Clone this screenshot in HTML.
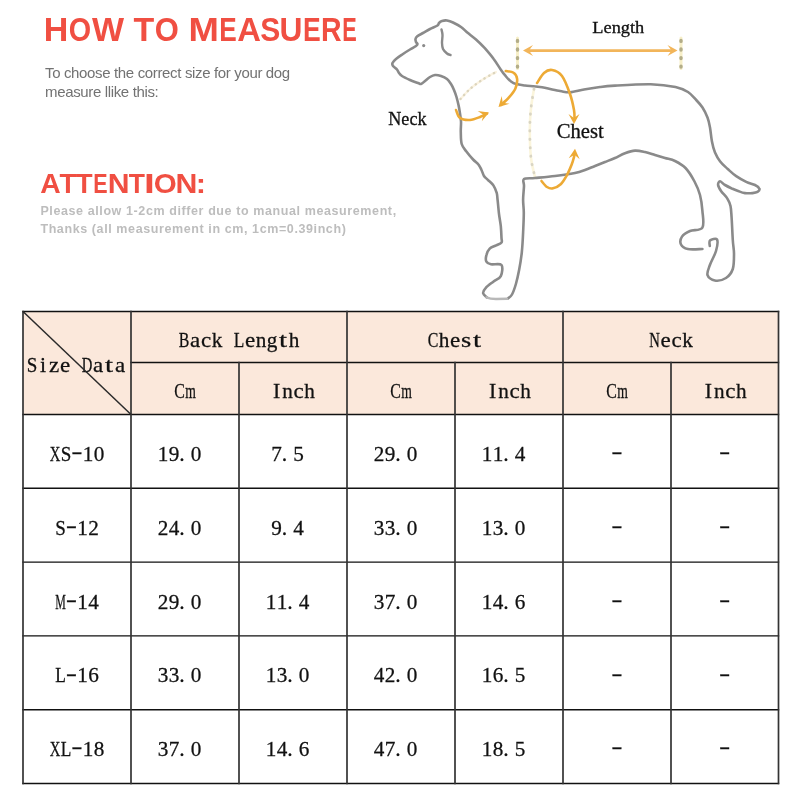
<!DOCTYPE html>
<html><head><meta charset="utf-8"><title>How to measure</title>
<style>
html,body{margin:0;padding:0;background:#fff;}
body{width:800px;height:800px;position:relative;overflow:hidden;}
.abs{position:absolute;white-space:nowrap;}
.sub{left:45px;top:64.3px;font:15px/18.6px "Liberation Sans",Arial,sans-serif;color:#727272;letter-spacing:-0.35px;}
.note{left:40.4px;top:203px;font:bold 12.5px/17.5px "Liberation Sans",Arial,sans-serif;color:#bdbdbd;letter-spacing:0.6px;}
svg{position:absolute;left:0;top:0;}
.lbl{font-family:"Liberation Serif","Noto Serif CJK SC",serif;fill:#111;stroke:#111;stroke-width:0.3px;}
.tt{font-family:"Liberation Serif","Noto Serif CJK SC",serif;fill:#111;stroke:#111;stroke-width:0.28px;}
.hy{font-family:"IPAGothic","Liberation Serif",sans-serif;}
</style></head>
<body>
<svg width="800" height="240" viewBox="0 0 800 240" class="ttl"><text fill="#F04F42" font-family="'Liberation Sans', Arial, sans-serif" font-weight="bold" font-size="33.4"><tspan x="43.72" y="40.5" textLength="24.57" lengthAdjust="spacingAndGlyphs">H</tspan><tspan x="68.82" y="40.5" textLength="22.39" lengthAdjust="spacingAndGlyphs">O</tspan><tspan x="91.97" y="40.5" textLength="32.07" lengthAdjust="spacingAndGlyphs">W</tspan> <tspan x="133.62" y="40.5" textLength="20.75" lengthAdjust="spacingAndGlyphs">T</tspan><tspan x="154.73" y="40.5" textLength="24.07" lengthAdjust="spacingAndGlyphs">O</tspan> <tspan x="188.56" y="40.5" textLength="30.38" lengthAdjust="spacingAndGlyphs">M</tspan><tspan x="219.25" y="40.5" textLength="17.48" lengthAdjust="spacingAndGlyphs">E</tspan><tspan x="237.18" y="40.5" textLength="23.68" lengthAdjust="spacingAndGlyphs">A</tspan><tspan x="260.13" y="40.5" textLength="20.04" lengthAdjust="spacingAndGlyphs">S</tspan><tspan x="279.49" y="40.5" textLength="22.95" lengthAdjust="spacingAndGlyphs">U</tspan><tspan x="302.92" y="40.5" textLength="17.71" lengthAdjust="spacingAndGlyphs">E</tspan><tspan x="320.89" y="40.5" textLength="20.59" lengthAdjust="spacingAndGlyphs">R</tspan><tspan x="342.35" y="40.5" textLength="14.50" lengthAdjust="spacingAndGlyphs">E</tspan></text><text fill="#F04F42" font-family="'Liberation Sans', Arial, sans-serif" font-weight="bold" font-size="28.4"><tspan x="40.29" y="192.5" textLength="20.45" lengthAdjust="spacingAndGlyphs">A</tspan><tspan x="59.44" y="192.5" textLength="16.86" lengthAdjust="spacingAndGlyphs">T</tspan><tspan x="75.69" y="192.5" textLength="16.86" lengthAdjust="spacingAndGlyphs">T</tspan><tspan x="93.31" y="192.5" textLength="14.33" lengthAdjust="spacingAndGlyphs">E</tspan><tspan x="107.73" y="192.5" textLength="21.80" lengthAdjust="spacingAndGlyphs">N</tspan><tspan x="128.70" y="192.5" textLength="16.18" lengthAdjust="spacingAndGlyphs">T</tspan><tspan x="144.00" y="192.5" textLength="10.80" lengthAdjust="spacingAndGlyphs">I</tspan><tspan x="153.79" y="192.5" textLength="22.95" lengthAdjust="spacingAndGlyphs">O</tspan><tspan x="175.47" y="192.5" textLength="21.87" lengthAdjust="spacingAndGlyphs">N</tspan><tspan x="195.77" y="192.5" textLength="10.30" lengthAdjust="spacingAndGlyphs">:</tspan></text></svg>
<div class="abs sub">To choose the correct size for your dog<br>measure llike this:</div>

<div class="abs note">Please allow 1-2cm differ due to manual measurement,<br>Thanks (all measurement in cm, 1cm=0.39inch)</div>

<svg class="dog" width="800" height="310" viewBox="0 0 800 310">
 <g fill="none" stroke-linecap="round" stroke-linejoin="round">
  <line x1="517.5" y1="38" x2="517.5" y2="68.5" stroke="#F7EFC8" stroke-width="3"/>
  <line x1="681" y1="38" x2="681" y2="68.5" stroke="#F7EFC8" stroke-width="3"/>
  <path d="M534.0 89.0 C533.5 92.2 531.7 101.2 531.0 108.0 C530.3 114.8 529.8 121.7 529.8 130.0 C529.8 138.3 530.1 150.2 531.0 158.0 C531.9 165.8 534.3 173.8 535.0 177.0" stroke="#FBF5DC" stroke-width="2.6"/>
  <path d="M460.5 99.0 C462.1 97.3 466.4 92.2 470.0 89.0 C473.6 85.8 477.7 82.8 482.0 80.0 C486.3 77.2 493.7 73.3 496.0 72.0" stroke="#FBF3E0" stroke-width="2.2"/>
  <path d="M487.0 297.5 C486.4 296.8 483.3 294.8 483.1 293.2 C482.9 291.6 484.0 289.9 485.8 287.9 C487.5 285.9 491.1 283.4 493.6 281.4 C496.1 279.4 499.5 278.8 500.8 276.1 C502.1 273.4 503.1 267.0 501.5 265.0 C499.9 263.0 493.5 264.9 491.0 264.3 C488.5 263.8 487.2 263.2 486.4 261.7 C485.6 260.2 485.8 257.3 486.4 255.1 C486.9 252.9 488.1 250.2 489.7 248.6 C491.3 247.0 494.3 246.3 496.2 245.3 C498.2 244.3 500.6 243.7 501.5 242.5 C502.4 241.3 501.6 240.7 501.5 238.0 C501.4 235.3 501.2 230.4 500.8 226.2 C500.4 222.1 499.4 217.5 498.9 213.1 C498.4 208.7 498.0 203.3 497.6 200.0 C497.2 196.7 497.4 195.7 496.8 193.2 C496.1 190.8 494.9 187.7 493.4 185.4 C491.9 183.2 489.3 181.3 487.8 179.8 C486.2 178.2 485.0 177.6 484.0 176.0 C483.0 174.4 482.4 171.8 481.5 170.0 C480.6 168.2 480.1 166.8 478.8 165.0 C477.4 163.2 475.2 161.7 473.1 159.5 C471.0 157.3 468.3 154.2 466.4 151.6 C464.5 149.0 462.6 147.2 461.7 144.0 C460.8 140.8 460.9 136.2 460.8 132.5 C460.6 128.8 461.2 125.1 461.0 121.5 C460.8 117.9 460.0 113.8 459.6 111.0 C459.2 108.2 459.0 107.3 458.5 105.0 C458.0 102.7 457.2 99.5 456.5 97.0 C455.8 94.5 454.9 92.2 454.0 90.0 C453.1 87.8 452.2 85.8 451.0 84.0 C449.8 82.2 448.7 80.3 447.0 79.0 C445.3 77.7 443.0 76.7 441.0 76.0 C439.0 75.3 436.8 74.8 435.0 75.0 C433.2 75.2 431.7 76.0 430.0 77.0 C428.3 78.0 426.5 79.8 425.0 81.0 C423.5 82.2 422.2 83.7 421.0 84.0 C419.8 84.3 419.8 83.7 418.0 83.0 C416.2 82.3 412.7 81.2 410.0 80.0 C407.3 78.8 403.8 77.2 402.0 76.0 C400.2 74.8 399.8 74.1 399.0 73.0 C398.2 71.9 398.0 70.7 397.0 69.5 C396.0 68.3 393.8 67.1 393.0 66.0 C392.2 64.9 392.0 64.2 392.5 63.0 C393.0 61.8 394.2 60.5 396.0 59.0 C397.8 57.5 400.7 55.6 403.0 54.0 C405.3 52.4 407.8 50.8 410.0 49.5 C412.2 48.2 414.8 46.9 416.0 46.0 C417.2 45.1 417.5 44.7 417.5 44.0 C417.5 43.3 416.3 42.8 416.0 42.0 C415.7 41.2 415.3 39.9 415.5 39.0 C415.7 38.1 415.8 37.5 417.0 36.5 C418.2 35.5 420.8 34.2 423.0 33.0 C425.2 31.8 427.6 30.2 430.0 29.0 C432.4 27.8 436.0 26.5 437.5 25.5 C439.0 24.5 438.2 23.8 439.0 23.0 C439.8 22.2 440.7 21.4 442.0 21.0 C443.3 20.6 445.2 20.2 447.0 20.5 C448.8 20.8 450.7 21.4 453.0 22.5 C455.3 23.6 458.6 25.3 461.0 27.0 C463.4 28.7 464.8 30.4 467.3 32.5 C469.8 34.6 473.1 36.9 476.0 39.5 C478.9 42.1 481.8 45.0 484.8 48.2 C487.7 51.5 490.9 55.2 493.5 58.8 C496.1 62.2 498.5 66.3 500.5 69.2 C502.5 72.2 504.0 74.2 505.8 76.2 C507.5 78.3 509.2 80.2 511.0 81.5 C512.8 82.8 513.9 83.4 516.2 84.1 C518.6 84.8 521.0 85.0 525.0 85.5 C529.0 86.0 534.2 86.1 540.0 87.0 C545.8 87.9 555.0 90.1 560.0 91.0 C565.0 91.9 566.0 92.5 570.0 92.3 C574.0 92.0 579.0 90.4 584.0 89.5 C589.0 88.6 594.8 87.7 600.0 87.0 C605.2 86.3 606.5 86.1 615.0 85.6 C623.5 85.1 640.6 84.0 650.7 84.2 C660.8 84.5 669.3 85.7 675.5 87.0 C681.7 88.3 684.5 89.8 688.0 92.0 C691.5 94.2 693.8 97.4 696.2 100.0 C698.7 102.6 700.6 104.6 702.5 107.5 C704.4 110.4 706.2 114.2 707.5 117.5 C708.8 120.8 709.3 123.5 710.0 127.5 C710.7 131.5 711.1 137.1 711.9 141.2 C712.7 145.4 713.6 149.2 715.0 152.5 C716.4 155.8 717.9 158.5 720.0 161.2 C722.1 164.0 724.8 166.2 727.5 168.8 C730.2 171.2 733.1 174.1 736.2 176.2 C739.4 178.4 743.1 180.4 746.2 181.9 C749.4 183.4 752.8 183.9 755.0 185.0 C757.2 186.1 759.0 187.6 759.4 188.8 C759.8 189.9 758.6 191.2 757.5 191.9 C756.4 192.6 754.6 192.9 752.5 193.1 C750.4 193.3 747.3 193.4 745.0 193.1 C742.7 192.8 740.8 192.0 738.8 191.2 C736.7 190.5 734.8 189.8 732.5 188.8 C730.2 187.7 727.1 186.2 725.0 185.0 C722.9 183.8 721.1 181.2 720.0 181.2 C718.9 181.2 717.9 183.3 718.1 185.0 C718.3 186.7 719.7 189.0 721.2 191.2 C722.8 193.5 726.0 196.3 727.5 198.8 C729.0 201.2 729.8 202.9 730.5 206.0 C731.2 209.1 731.2 211.8 731.6 217.5 C732.0 223.2 732.4 234.0 732.8 240.0 C733.1 246.0 734.0 248.7 734.0 253.5 C734.0 258.3 734.1 264.9 732.8 269.0 C731.4 273.1 729.0 276.1 726.0 278.0 C723.0 279.9 717.8 281.0 714.8 280.5 C711.7 280.0 708.3 277.6 707.5 275.0 C706.7 272.4 708.6 268.8 710.0 264.8 C711.4 260.8 714.8 255.2 716.0 251.0 C717.2 246.8 718.0 241.2 717.0 239.5 C716.0 237.8 711.2 239.4 710.0 240.5 C708.8 241.6 709.8 245.1 709.8 246.0" stroke="#8a8a8a" stroke-width="2.6"/>
  <path d="M508.0 298.4 C508.7 297.8 510.7 296.9 512.0 294.5 C513.3 292.1 514.7 288.1 515.9 284.0 C517.1 279.9 518.2 274.9 519.2 269.6 C520.2 264.4 521.1 258.6 521.8 252.5 C522.4 246.4 522.8 239.4 523.1 232.8 C523.4 226.2 523.8 218.6 523.8 213.1 C523.8 207.6 523.1 204.5 523.1 200.0 C523.1 195.5 523.9 189.5 524.0 186.0 C524.1 182.5 522.2 180.3 524.0 179.0 C525.8 177.7 529.8 178.5 535.0 178.0 C540.2 177.5 548.3 176.8 555.0 176.0 C561.7 175.2 570.0 174.0 575.0 173.0 C580.0 172.0 581.7 171.2 585.0 170.0 C588.3 168.8 591.7 167.3 595.0 166.0 C598.3 164.7 601.7 163.3 605.0 162.0 C608.3 160.7 611.7 159.5 615.0 158.0 C618.3 156.5 621.7 154.4 625.0 153.2 C628.3 152.0 631.7 150.8 635.0 150.6 C638.3 150.4 641.7 151.3 645.0 152.0 C648.3 152.7 651.7 154.0 655.0 155.0 C658.3 156.0 661.7 157.0 665.0 158.0 C668.3 159.0 671.6 159.3 675.0 161.0 C678.4 162.7 682.2 164.6 685.5 168.0 C688.8 171.4 692.1 177.0 694.5 181.5 C696.9 186.0 698.7 190.1 700.0 195.0 C701.3 199.9 702.0 205.3 702.4 210.8 C702.8 216.2 704.5 224.2 702.4 227.6 C700.3 231.0 693.4 229.5 690.0 231.0 C686.6 232.5 683.5 234.3 682.0 236.6 C680.5 238.8 680.0 242.4 681.0 244.5 C682.0 246.6 684.2 248.2 687.8 249.0 C691.3 249.8 700.0 249.0 702.4 249.0" stroke="#8a8a8a" stroke-width="2.6"/>
  <path d="M486.5 297.3 Q490 299 496 299 L507 298.7" stroke="#b8b8b8" stroke-width="2.4"/>
  <path d="M441.5 29.5 C441.7 30.4 442.4 32.8 442.5 35.0 C442.6 37.2 441.9 40.7 442.0 43.0 C442.1 45.3 442.2 47.2 443.0 49.0 C443.8 50.8 445.8 52.5 447.0 53.5 C448.2 54.5 449.9 54.8 450.5 55.0" stroke="#8a8a8a" stroke-width="2.4"/>
  <circle cx="423.7" cy="45.6" r="1.6" fill="#8a8a8a" stroke="none"/>
  <path d="M460.5 99.0 C462.1 97.3 466.4 92.2 470.0 89.0 C473.6 85.8 477.7 82.8 482.0 80.0 C486.3 77.2 493.7 73.3 496.0 72.0" stroke="#DCD5BE" stroke-width="2.4" stroke-dasharray="0.3 5"/>
  <path d="M534.0 89.0 C533.5 92.2 531.7 101.2 531.0 108.0 C530.3 114.8 529.8 121.7 529.8 130.0 C529.8 138.3 530.1 150.2 531.0 158.0 C531.9 165.8 534.3 173.8 535.0 177.0" stroke="#D9D5C4" stroke-width="2.8" stroke-dasharray="0.4 8"/>
  <line x1="517.5" y1="40.4" x2="517.5" y2="67" stroke="#B3AD88" stroke-width="3.4" stroke-dasharray="1 7.6"/>
  <line x1="681" y1="40.4" x2="681" y2="67" stroke="#B3AD88" stroke-width="3.4" stroke-dasharray="1 7.6"/>
  <path d="M505.8 71.0 C507.1 71.3 511.7 71.4 513.6 72.8 C515.5 74.1 516.8 76.3 517.1 78.9 C517.4 81.5 516.7 85.4 515.4 88.5 C514.1 91.6 511.6 94.5 509.2 97.2 C506.9 100.0 502.4 103.7 501.0 105.0" stroke="#EDAA35" stroke-width="2.6"/>
  <path d="M456.0 110.0 C456.7 111.3 457.7 116.3 460.0 118.0 C462.3 119.7 466.7 120.2 470.0 120.0 C473.3 119.8 477.2 118.1 480.0 117.0 C482.8 115.9 485.8 114.1 487.0 113.5" stroke="#EDAA35" stroke-width="2.6"/>
  <path d="M537.0 83.0 C538.2 81.3 541.5 75.2 544.0 73.0 C546.5 70.8 549.0 69.5 552.0 70.0 C555.0 70.5 559.0 72.0 562.0 76.0 C565.0 80.0 568.0 88.3 570.0 94.0 C572.0 99.7 573.2 105.7 574.0 110.0 C574.8 114.3 574.4 118.3 574.5 120.0" stroke="#EDAA35" stroke-width="2.6"/>
  <path d="M541.5 181.0 C542.4 182.0 545.1 185.8 547.0 187.0 C548.9 188.2 550.7 188.8 553.0 188.3 C555.3 187.8 558.7 186.2 561.0 184.0 C563.3 181.8 565.2 178.2 567.0 175.0 C568.8 171.8 570.3 168.0 571.5 165.0 C572.7 162.0 573.5 159.0 574.0 157.0 C574.5 155.0 574.7 153.7 574.8 153.0" stroke="#EDAA35" stroke-width="2.6"/>
  <line x1="528" y1="50.6" x2="672" y2="50.6" stroke="#F2B55A" stroke-width="2.8"/>
 </g>
 <g fill="#EDAA35">
  <path d="M523.0 50.6 L533.0 45.1 L529.0 50.6 L533.0 56.1 Z" fill="#F2B55A"/>
  <path d="M677.5 50.6 L667.5 56.1 L671.5 50.6 L667.5 45.1 Z" fill="#F2B55A"/>
  <path d="M498.5 107.0 L501.7 96.0 L502.7 102.8 L509.5 103.8 Z"/>
  <path d="M489.0 112.5 L481.8 121.3 L483.4 114.7 L477.7 111.1 Z"/>
  <path d="M574.0 124.0 L568.5 114.0 L574.0 118.0 L579.5 114.0 Z"/>
  <path d="M575.0 148.8 L579.7 159.2 L574.5 154.8 L568.7 158.3 Z"/>
 </g>
 <text x="592.3" y="32.5" class="lbl" font-size="16.3" textLength="52" lengthAdjust="spacingAndGlyphs">Length</text>
 <text x="388.3" y="125.4" class="lbl" font-size="19.8" textLength="38.2" lengthAdjust="spacingAndGlyphs">Neck</text>
 <text x="556.8" y="138" class="lbl" font-size="20" textLength="47" lengthAdjust="spacingAndGlyphs">Chest</text>
</svg>

<svg class="tbl" width="800" height="800" viewBox="0 0 800 800">
<rect x="23" y="311.5" width="755.5" height="103.0" fill="#FBE8DB"/>
<g class="tt" transform="scale(1.0,1)"><text y="346.6" text-anchor="middle" font-size="21.75"><tspan x="184.00" y="346.6" textLength="10.6" lengthAdjust="spacingAndGlyphs">B</tspan><tspan x="195.00" y="346.6" textLength="10.2" lengthAdjust="spacingAndGlyphs">a</tspan><tspan x="206.00" y="346.6" textLength="10.2" lengthAdjust="spacingAndGlyphs">c</tspan><tspan x="217.00" y="346.6" textLength="10.6" lengthAdjust="spacingAndGlyphs">k</tspan><tspan x="239.00" y="346.6" textLength="10.6" lengthAdjust="spacingAndGlyphs">L</tspan><tspan x="250.00" y="346.6" textLength="10.2" lengthAdjust="spacingAndGlyphs">e</tspan><tspan x="261.00" y="346.6" textLength="10.6" lengthAdjust="spacingAndGlyphs">n</tspan><tspan x="272.00" y="346.6" textLength="10.6" lengthAdjust="spacingAndGlyphs">g</tspan><tspan x="283.00" y="346.6" textLength="8.0" lengthAdjust="spacingAndGlyphs">t</tspan><tspan x="294.00" y="346.6" textLength="10.6" lengthAdjust="spacingAndGlyphs">h</tspan></text><text y="346.6" text-anchor="middle" font-size="21.75"><tspan x="433.00" y="346.6" textLength="10.6" lengthAdjust="spacingAndGlyphs">C</tspan><tspan x="444.00" y="346.6" textLength="10.6" lengthAdjust="spacingAndGlyphs">h</tspan><tspan x="455.00" y="346.6" textLength="10.2" lengthAdjust="spacingAndGlyphs">e</tspan><tspan x="466.00" y="346.6" textLength="10.2" lengthAdjust="spacingAndGlyphs">s</tspan><tspan x="477.00" y="346.6" textLength="8.0" lengthAdjust="spacingAndGlyphs">t</tspan></text><text y="346.6" text-anchor="middle" font-size="21.75"><tspan x="654.50" y="346.6" textLength="10.6" lengthAdjust="spacingAndGlyphs">N</tspan><tspan x="665.50" y="346.6" textLength="10.2" lengthAdjust="spacingAndGlyphs">e</tspan><tspan x="676.50" y="346.6" textLength="10.2" lengthAdjust="spacingAndGlyphs">c</tspan><tspan x="687.50" y="346.6" textLength="10.6" lengthAdjust="spacingAndGlyphs">k</tspan></text><text y="397.9" text-anchor="middle" font-size="21.75"><tspan x="179.50" y="397.9" textLength="10.6" lengthAdjust="spacingAndGlyphs">C</tspan><tspan x="190.50" y="397.9" textLength="10.6" lengthAdjust="spacingAndGlyphs">m</tspan></text><text y="397.9" text-anchor="middle" font-size="21.75"><tspan x="276.50" y="397.9">I</tspan><tspan x="287.50" y="397.9" textLength="10.6" lengthAdjust="spacingAndGlyphs">n</tspan><tspan x="298.50" y="397.9" textLength="10.2" lengthAdjust="spacingAndGlyphs">c</tspan><tspan x="309.50" y="397.9" textLength="10.6" lengthAdjust="spacingAndGlyphs">h</tspan></text><text y="397.9" text-anchor="middle" font-size="21.75"><tspan x="395.50" y="397.9" textLength="10.6" lengthAdjust="spacingAndGlyphs">C</tspan><tspan x="406.50" y="397.9" textLength="10.6" lengthAdjust="spacingAndGlyphs">m</tspan></text><text y="397.9" text-anchor="middle" font-size="21.75"><tspan x="492.50" y="397.9">I</tspan><tspan x="503.50" y="397.9" textLength="10.6" lengthAdjust="spacingAndGlyphs">n</tspan><tspan x="514.50" y="397.9" textLength="10.2" lengthAdjust="spacingAndGlyphs">c</tspan><tspan x="525.50" y="397.9" textLength="10.6" lengthAdjust="spacingAndGlyphs">h</tspan></text><text y="397.9" text-anchor="middle" font-size="21.75"><tspan x="611.50" y="397.9" textLength="10.6" lengthAdjust="spacingAndGlyphs">C</tspan><tspan x="622.50" y="397.9" textLength="10.6" lengthAdjust="spacingAndGlyphs">m</tspan></text><text y="397.9" text-anchor="middle" font-size="21.75"><tspan x="708.25" y="397.9">I</tspan><tspan x="719.25" y="397.9" textLength="10.6" lengthAdjust="spacingAndGlyphs">n</tspan><tspan x="730.25" y="397.9" textLength="10.2" lengthAdjust="spacingAndGlyphs">c</tspan><tspan x="741.25" y="397.9" textLength="10.6" lengthAdjust="spacingAndGlyphs">h</tspan></text><text y="372.1" text-anchor="middle" font-size="21.75"><tspan x="32.00" y="372.1" textLength="10.6" lengthAdjust="spacingAndGlyphs">S</tspan><tspan x="43.00" y="372.1">i</tspan><tspan x="54.00" y="372.1" textLength="10.2" lengthAdjust="spacingAndGlyphs">z</tspan><tspan x="65.00" y="372.1" textLength="10.2" lengthAdjust="spacingAndGlyphs">e</tspan><tspan x="87.00" y="372.1" textLength="10.6" lengthAdjust="spacingAndGlyphs">D</tspan><tspan x="98.00" y="372.1" textLength="10.2" lengthAdjust="spacingAndGlyphs">a</tspan><tspan x="109.00" y="372.1" textLength="8.0" lengthAdjust="spacingAndGlyphs">t</tspan><tspan x="120.00" y="372.1" textLength="10.2" lengthAdjust="spacingAndGlyphs">a</tspan></text><text y="461.0" text-anchor="middle" font-size="21.75"><tspan x="55.00" y="461.0" textLength="10.6" lengthAdjust="spacingAndGlyphs">X</tspan><tspan x="66.00" y="461.0" textLength="10.6" lengthAdjust="spacingAndGlyphs">S</tspan><tspan x="77.00" y="462.2" class="hy">-</tspan><tspan x="88.00" y="461.0" textLength="10.6" lengthAdjust="spacingAndGlyphs">1</tspan><tspan x="99.00" y="461.0" textLength="10.6" lengthAdjust="spacingAndGlyphs">0</tspan></text><text y="461.0" text-anchor="middle" font-size="21.75"><tspan x="163.00" y="461.0" textLength="10.6" lengthAdjust="spacingAndGlyphs">1</tspan><tspan x="174.00" y="461.0" textLength="10.6" lengthAdjust="spacingAndGlyphs">9</tspan><tspan x="182.00" y="461.0">.</tspan><tspan x="196.00" y="461.0" textLength="10.6" lengthAdjust="spacingAndGlyphs">0</tspan></text><text y="461.0" text-anchor="middle" font-size="21.75"><tspan x="276.50" y="461.0" textLength="10.6" lengthAdjust="spacingAndGlyphs">7</tspan><tspan x="284.50" y="461.0">.</tspan><tspan x="298.50" y="461.0" textLength="10.6" lengthAdjust="spacingAndGlyphs">5</tspan></text><text y="461.0" text-anchor="middle" font-size="21.75"><tspan x="379.00" y="461.0" textLength="10.6" lengthAdjust="spacingAndGlyphs">2</tspan><tspan x="390.00" y="461.0" textLength="10.6" lengthAdjust="spacingAndGlyphs">9</tspan><tspan x="398.00" y="461.0">.</tspan><tspan x="412.00" y="461.0" textLength="10.6" lengthAdjust="spacingAndGlyphs">0</tspan></text><text y="461.0" text-anchor="middle" font-size="21.75"><tspan x="487.00" y="461.0" textLength="10.6" lengthAdjust="spacingAndGlyphs">1</tspan><tspan x="498.00" y="461.0" textLength="10.6" lengthAdjust="spacingAndGlyphs">1</tspan><tspan x="506.00" y="461.0">.</tspan><tspan x="520.00" y="461.0" textLength="10.6" lengthAdjust="spacingAndGlyphs">4</tspan></text><text y="461.0" text-anchor="middle" font-size="21.75"><tspan x="617.00" y="462.2" class="hy">-</tspan></text><text y="461.0" text-anchor="middle" font-size="21.75"><tspan x="724.75" y="462.2" class="hy">-</tspan></text><text y="534.8000000000001" text-anchor="middle" font-size="21.75"><tspan x="60.50" y="534.8000000000001" textLength="10.6" lengthAdjust="spacingAndGlyphs">S</tspan><tspan x="71.50" y="536.0" class="hy">-</tspan><tspan x="82.50" y="534.8000000000001" textLength="10.6" lengthAdjust="spacingAndGlyphs">1</tspan><tspan x="93.50" y="534.8000000000001" textLength="10.6" lengthAdjust="spacingAndGlyphs">2</tspan></text><text y="534.8000000000001" text-anchor="middle" font-size="21.75"><tspan x="163.00" y="534.8000000000001" textLength="10.6" lengthAdjust="spacingAndGlyphs">2</tspan><tspan x="174.00" y="534.8000000000001" textLength="10.6" lengthAdjust="spacingAndGlyphs">4</tspan><tspan x="182.00" y="534.8000000000001">.</tspan><tspan x="196.00" y="534.8000000000001" textLength="10.6" lengthAdjust="spacingAndGlyphs">0</tspan></text><text y="534.8000000000001" text-anchor="middle" font-size="21.75"><tspan x="276.50" y="534.8000000000001" textLength="10.6" lengthAdjust="spacingAndGlyphs">9</tspan><tspan x="284.50" y="534.8000000000001">.</tspan><tspan x="298.50" y="534.8000000000001" textLength="10.6" lengthAdjust="spacingAndGlyphs">4</tspan></text><text y="534.8000000000001" text-anchor="middle" font-size="21.75"><tspan x="379.00" y="534.8000000000001" textLength="10.6" lengthAdjust="spacingAndGlyphs">3</tspan><tspan x="390.00" y="534.8000000000001" textLength="10.6" lengthAdjust="spacingAndGlyphs">3</tspan><tspan x="398.00" y="534.8000000000001">.</tspan><tspan x="412.00" y="534.8000000000001" textLength="10.6" lengthAdjust="spacingAndGlyphs">0</tspan></text><text y="534.8000000000001" text-anchor="middle" font-size="21.75"><tspan x="487.00" y="534.8000000000001" textLength="10.6" lengthAdjust="spacingAndGlyphs">1</tspan><tspan x="498.00" y="534.8000000000001" textLength="10.6" lengthAdjust="spacingAndGlyphs">3</tspan><tspan x="506.00" y="534.8000000000001">.</tspan><tspan x="520.00" y="534.8000000000001" textLength="10.6" lengthAdjust="spacingAndGlyphs">0</tspan></text><text y="534.8000000000001" text-anchor="middle" font-size="21.75"><tspan x="617.00" y="536.0" class="hy">-</tspan></text><text y="534.8000000000001" text-anchor="middle" font-size="21.75"><tspan x="724.75" y="536.0" class="hy">-</tspan></text><text y="608.6" text-anchor="middle" font-size="21.75"><tspan x="60.50" y="608.6" textLength="10.6" lengthAdjust="spacingAndGlyphs">M</tspan><tspan x="71.50" y="609.8" class="hy">-</tspan><tspan x="82.50" y="608.6" textLength="10.6" lengthAdjust="spacingAndGlyphs">1</tspan><tspan x="93.50" y="608.6" textLength="10.6" lengthAdjust="spacingAndGlyphs">4</tspan></text><text y="608.6" text-anchor="middle" font-size="21.75"><tspan x="163.00" y="608.6" textLength="10.6" lengthAdjust="spacingAndGlyphs">2</tspan><tspan x="174.00" y="608.6" textLength="10.6" lengthAdjust="spacingAndGlyphs">9</tspan><tspan x="182.00" y="608.6">.</tspan><tspan x="196.00" y="608.6" textLength="10.6" lengthAdjust="spacingAndGlyphs">0</tspan></text><text y="608.6" text-anchor="middle" font-size="21.75"><tspan x="271.00" y="608.6" textLength="10.6" lengthAdjust="spacingAndGlyphs">1</tspan><tspan x="282.00" y="608.6" textLength="10.6" lengthAdjust="spacingAndGlyphs">1</tspan><tspan x="290.00" y="608.6">.</tspan><tspan x="304.00" y="608.6" textLength="10.6" lengthAdjust="spacingAndGlyphs">4</tspan></text><text y="608.6" text-anchor="middle" font-size="21.75"><tspan x="379.00" y="608.6" textLength="10.6" lengthAdjust="spacingAndGlyphs">3</tspan><tspan x="390.00" y="608.6" textLength="10.6" lengthAdjust="spacingAndGlyphs">7</tspan><tspan x="398.00" y="608.6">.</tspan><tspan x="412.00" y="608.6" textLength="10.6" lengthAdjust="spacingAndGlyphs">0</tspan></text><text y="608.6" text-anchor="middle" font-size="21.75"><tspan x="487.00" y="608.6" textLength="10.6" lengthAdjust="spacingAndGlyphs">1</tspan><tspan x="498.00" y="608.6" textLength="10.6" lengthAdjust="spacingAndGlyphs">4</tspan><tspan x="506.00" y="608.6">.</tspan><tspan x="520.00" y="608.6" textLength="10.6" lengthAdjust="spacingAndGlyphs">6</tspan></text><text y="608.6" text-anchor="middle" font-size="21.75"><tspan x="617.00" y="609.8" class="hy">-</tspan></text><text y="608.6" text-anchor="middle" font-size="21.75"><tspan x="724.75" y="609.8" class="hy">-</tspan></text><text y="682.4" text-anchor="middle" font-size="21.75"><tspan x="60.50" y="682.4" textLength="10.6" lengthAdjust="spacingAndGlyphs">L</tspan><tspan x="71.50" y="683.6" class="hy">-</tspan><tspan x="82.50" y="682.4" textLength="10.6" lengthAdjust="spacingAndGlyphs">1</tspan><tspan x="93.50" y="682.4" textLength="10.6" lengthAdjust="spacingAndGlyphs">6</tspan></text><text y="682.4" text-anchor="middle" font-size="21.75"><tspan x="163.00" y="682.4" textLength="10.6" lengthAdjust="spacingAndGlyphs">3</tspan><tspan x="174.00" y="682.4" textLength="10.6" lengthAdjust="spacingAndGlyphs">3</tspan><tspan x="182.00" y="682.4">.</tspan><tspan x="196.00" y="682.4" textLength="10.6" lengthAdjust="spacingAndGlyphs">0</tspan></text><text y="682.4" text-anchor="middle" font-size="21.75"><tspan x="271.00" y="682.4" textLength="10.6" lengthAdjust="spacingAndGlyphs">1</tspan><tspan x="282.00" y="682.4" textLength="10.6" lengthAdjust="spacingAndGlyphs">3</tspan><tspan x="290.00" y="682.4">.</tspan><tspan x="304.00" y="682.4" textLength="10.6" lengthAdjust="spacingAndGlyphs">0</tspan></text><text y="682.4" text-anchor="middle" font-size="21.75"><tspan x="379.00" y="682.4" textLength="10.6" lengthAdjust="spacingAndGlyphs">4</tspan><tspan x="390.00" y="682.4" textLength="10.6" lengthAdjust="spacingAndGlyphs">2</tspan><tspan x="398.00" y="682.4">.</tspan><tspan x="412.00" y="682.4" textLength="10.6" lengthAdjust="spacingAndGlyphs">0</tspan></text><text y="682.4" text-anchor="middle" font-size="21.75"><tspan x="487.00" y="682.4" textLength="10.6" lengthAdjust="spacingAndGlyphs">1</tspan><tspan x="498.00" y="682.4" textLength="10.6" lengthAdjust="spacingAndGlyphs">6</tspan><tspan x="506.00" y="682.4">.</tspan><tspan x="520.00" y="682.4" textLength="10.6" lengthAdjust="spacingAndGlyphs">5</tspan></text><text y="682.4" text-anchor="middle" font-size="21.75"><tspan x="617.00" y="683.6" class="hy">-</tspan></text><text y="682.4" text-anchor="middle" font-size="21.75"><tspan x="724.75" y="683.6" class="hy">-</tspan></text><text y="756.2" text-anchor="middle" font-size="21.75"><tspan x="55.00" y="756.2" textLength="10.6" lengthAdjust="spacingAndGlyphs">X</tspan><tspan x="66.00" y="756.2" textLength="10.6" lengthAdjust="spacingAndGlyphs">L</tspan><tspan x="77.00" y="757.4" class="hy">-</tspan><tspan x="88.00" y="756.2" textLength="10.6" lengthAdjust="spacingAndGlyphs">1</tspan><tspan x="99.00" y="756.2" textLength="10.6" lengthAdjust="spacingAndGlyphs">8</tspan></text><text y="756.2" text-anchor="middle" font-size="21.75"><tspan x="163.00" y="756.2" textLength="10.6" lengthAdjust="spacingAndGlyphs">3</tspan><tspan x="174.00" y="756.2" textLength="10.6" lengthAdjust="spacingAndGlyphs">7</tspan><tspan x="182.00" y="756.2">.</tspan><tspan x="196.00" y="756.2" textLength="10.6" lengthAdjust="spacingAndGlyphs">0</tspan></text><text y="756.2" text-anchor="middle" font-size="21.75"><tspan x="271.00" y="756.2" textLength="10.6" lengthAdjust="spacingAndGlyphs">1</tspan><tspan x="282.00" y="756.2" textLength="10.6" lengthAdjust="spacingAndGlyphs">4</tspan><tspan x="290.00" y="756.2">.</tspan><tspan x="304.00" y="756.2" textLength="10.6" lengthAdjust="spacingAndGlyphs">6</tspan></text><text y="756.2" text-anchor="middle" font-size="21.75"><tspan x="379.00" y="756.2" textLength="10.6" lengthAdjust="spacingAndGlyphs">4</tspan><tspan x="390.00" y="756.2" textLength="10.6" lengthAdjust="spacingAndGlyphs">7</tspan><tspan x="398.00" y="756.2">.</tspan><tspan x="412.00" y="756.2" textLength="10.6" lengthAdjust="spacingAndGlyphs">0</tspan></text><text y="756.2" text-anchor="middle" font-size="21.75"><tspan x="487.00" y="756.2" textLength="10.6" lengthAdjust="spacingAndGlyphs">1</tspan><tspan x="498.00" y="756.2" textLength="10.6" lengthAdjust="spacingAndGlyphs">8</tspan><tspan x="506.00" y="756.2">.</tspan><tspan x="520.00" y="756.2" textLength="10.6" lengthAdjust="spacingAndGlyphs">5</tspan></text><text y="756.2" text-anchor="middle" font-size="21.75"><tspan x="617.00" y="757.4" class="hy">-</tspan></text><text y="756.2" text-anchor="middle" font-size="21.75"><tspan x="724.75" y="757.4" class="hy">-</tspan></text></g>
<line x1="22.3" y1="311.5" x2="779.2" y2="311.5" stroke="#111" stroke-width="1.4"/><line x1="130.3" y1="362.5" x2="779.2" y2="362.5" stroke="#111" stroke-width="1.4"/><line x1="22.3" y1="414.5" x2="779.2" y2="414.5" stroke="#111" stroke-width="1.4"/><line x1="22.3" y1="488.3" x2="779.2" y2="488.3" stroke="#111" stroke-width="1.4"/><line x1="22.3" y1="562.1" x2="779.2" y2="562.1" stroke="#111" stroke-width="1.4"/><line x1="22.3" y1="635.9" x2="779.2" y2="635.9" stroke="#111" stroke-width="1.4"/><line x1="22.3" y1="709.7" x2="779.2" y2="709.7" stroke="#111" stroke-width="1.4"/><line x1="22.3" y1="783.5" x2="779.2" y2="783.5" stroke="#111" stroke-width="1.4"/><line x1="23" y1="310.8" x2="23" y2="784.2" stroke="#333" stroke-width="1.7"/><line x1="131" y1="310.8" x2="131" y2="784.2" stroke="#333" stroke-width="1.7"/><line x1="239" y1="361.8" x2="239" y2="784.2" stroke="#333" stroke-width="1.7"/><line x1="347" y1="310.8" x2="347" y2="784.2" stroke="#333" stroke-width="1.7"/><line x1="455" y1="361.8" x2="455" y2="784.2" stroke="#333" stroke-width="1.7"/><line x1="563" y1="310.8" x2="563" y2="784.2" stroke="#333" stroke-width="1.7"/><line x1="671" y1="361.8" x2="671" y2="784.2" stroke="#333" stroke-width="1.7"/><line x1="778.5" y1="310.8" x2="778.5" y2="784.2" stroke="#333" stroke-width="1.7"/><line x1="23" y1="311.5" x2="131" y2="414.5" stroke="#2a2a2a" stroke-width="1.5"/>
</svg>
</body></html>
